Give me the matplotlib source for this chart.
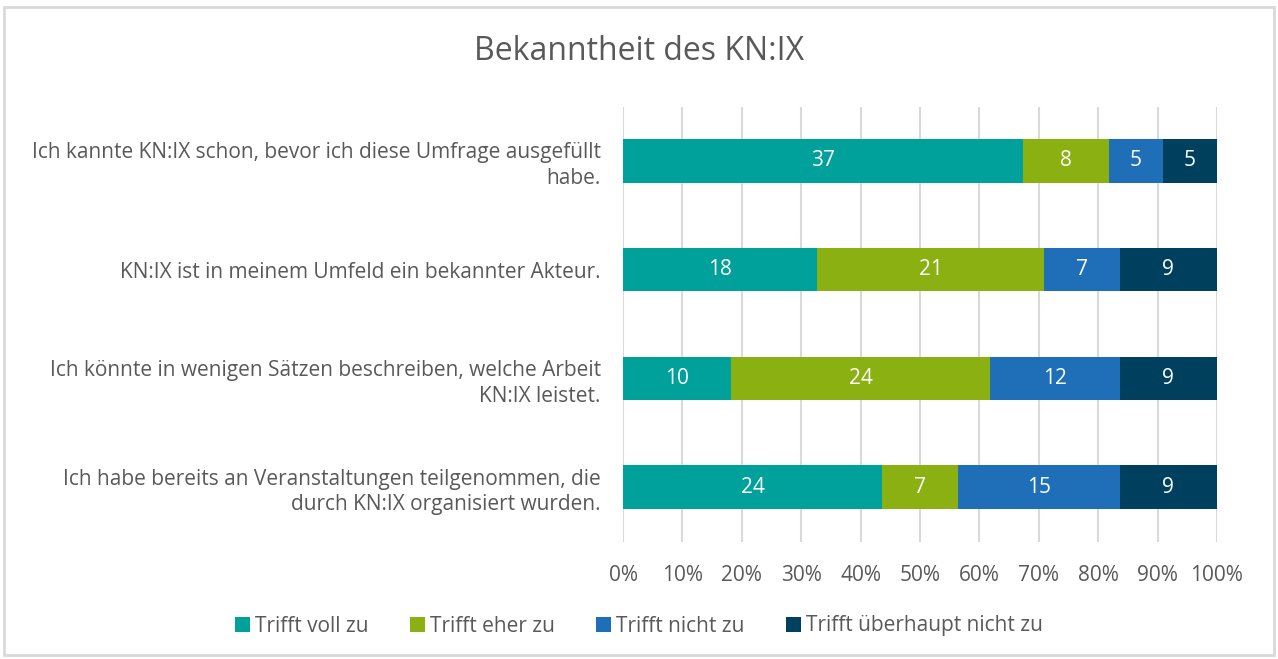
import matplotlib
matplotlib.use("Agg")
import matplotlib.pyplot as plt
from matplotlib.patches import Rectangle
import numpy as np

title = "Bekanntheit des KN:IX"
categories = [
    "Ich kannte KN:IX schon, bevor ich diese Umfrage ausgefüllt\nhabe.",
    "KN:IX ist in meinem Umfeld ein bekannter Akteur.",
    "Ich könnte in wenigen Sätzen beschreiben, welche Arbeit\nKN:IX leistet.",
    "Ich habe bereits an Veranstaltungen teilgenommen, die\ndurch KN:IX organisiert wurden.",
]
series_names = ["Trifft voll zu", "Trifft eher zu", "Trifft nicht zu", "Trifft überhaupt nicht zu"]
voll = [37, 18, 10, 24]
eher = [8, 21, 24, 7]
nicht = [5, 7, 12, 15]
ueberhaupt = [5, 9, 9, 9]
colors = ["#00A19A", "#8AB011", "#1F6EB8", "#00405F"]
tick_labels = ["0%", "10%", "20%", "30%", "40%", "50%", "60%", "70%", "80%", "90%", "100%"]

plt.rcParams['font.family'] = ['Open Sans', 'DejaVu Sans']
txt = "#595959"

fig = plt.figure(figsize=(12.78, 6.59), dpi=100)
ax = fig.add_axes([623/1278, 1-541.5/659, (1217-623)/1278, 435/659])

data = np.array([voll, eher, nicht, ueberhaupt], dtype=float)
totals = data.sum(axis=0)
pct = data / totals
y = np.arange(len(categories))
left = np.zeros(len(categories))
for i, name in enumerate(series_names):
    bars = ax.barh(y, pct[i], left=left, height=0.4, color=colors[i], label=name, zorder=3)
    for j, b in enumerate(bars):
        ax.text(left[j] + pct[i][j] / 2, y[j], f"{int(data[i][j])}", ha='center', va='center',
                color='white', fontsize=15, zorder=4)
    left += pct[i]

ax.set_xlim(0, 1)
ax.set_ylim(len(categories) - 0.5, -0.5)
ax.set_xticks(np.linspace(0, 1, 11))
ax.set_xticklabels(tick_labels, fontsize=15, color=txt)
ax.set_yticks(y)
ax.set_yticklabels(categories, fontsize=15, color=txt, ha='right', linespacing=1.3)
ax.tick_params(axis='both', length=0)
ax.tick_params(axis='x', pad=17)
ax.tick_params(axis='y', pad=16)
ax.grid(axis='x', color='#D9D9D9', linewidth=1.5, zorder=0)
for s in ax.spines.values():
    s.set_visible(False)

fig.text(0.5, 1 - 52/659, title, ha='center', va='center', fontsize=23, color=txt)

leg = fig.legend(loc='center', bbox_to_anchor=(0.5, 1 - 626/659), ncol=4, frameon=False,
                 fontsize=15, handlelength=0.7, handleheight=0.7, handletextpad=0.25,
                 columnspacing=2.0)
for t in leg.get_texts():
    t.set_color(txt)

fig.patches.append(Rectangle((4/1278, 4/659), 1270/1278, 648/659, transform=fig.transFigure,
                             fill=False, edgecolor='#D9D9D9', linewidth=2))

fig.savefig("out.png", dpi=100, facecolor='white')
